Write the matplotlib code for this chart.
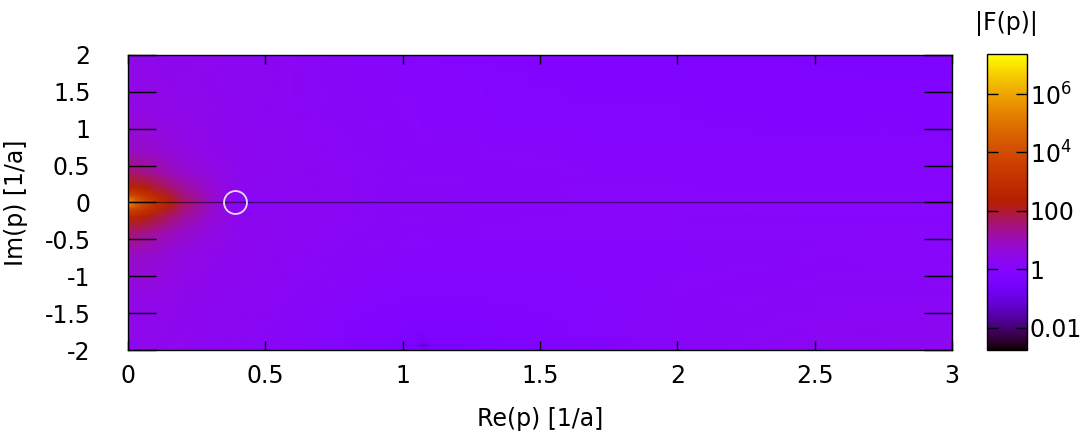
import numpy as np
import matplotlib
matplotlib.use('Agg')
import matplotlib.pyplot as plt
from matplotlib.colors import LogNorm

plt.rcParams['font.family'] = ['DejaVu Sans']
plt.rcParams['mathtext.fontset'] = 'dejavusans'

# grid (Re and Im of p, units 1/a)
re_p = [0, 0.03, 0.06, 0.1, 0.15, 0.2, 0.3, 0.4, 0.6, 0.8, 1.0, 1.05, 1.075, 1.1, 1.3, 1.6, 2.0, 2.5, 3.0]
im_p = [2, 1.2, 0.7, 0.4, 0.2, 0.1, 0, -0.1, -0.2, -0.4, -0.7, -1.2, -1.7, -1.91, -1.94, -1.97, -2]

# log10 |F(p)| estimated from the colours, rows follow im_p (top to bottom)
log_abs_F = [
    [0.38, 0.38, 0.38, 0.37, 0.36, 0.35, 0.33, 0.30, 0.22, 0.12, 0.02, 0.00, 0.00, -0.01, -0.06, -0.13, -0.20, -0.26, -0.28],
    [0.55, 0.55, 0.54, 0.51, 0.47, 0.43, 0.37, 0.32, 0.24, 0.15, 0.06, 0.05, 0.04, 0.04, 0.00, -0.05, -0.10, -0.13, -0.14],
    [0.90, 0.88, 0.84, 0.76, 0.66, 0.56, 0.43, 0.35, 0.27, 0.19, 0.11, 0.10, 0.10, 0.09, 0.06, 0.03, 0.00, -0.01, -0.02],
    [1.60, 1.52, 1.42, 1.25, 1.02, 0.82, 0.55, 0.37, 0.28, 0.21, 0.13, 0.12, 0.12, 0.12, 0.09, 0.06, 0.04, 0.03, 0.02],
    [2.60, 2.48, 2.28, 1.98, 1.60, 1.25, 0.75, 0.36, 0.28, 0.21, 0.14, 0.13, 0.13, 0.13, 0.10, 0.07, 0.05, 0.04, 0.04],
    [3.80, 3.55, 3.15, 2.65, 2.05, 1.50, 0.82, 0.24, 0.28, 0.21, 0.15, 0.14, 0.14, 0.14, 0.11, 0.08, 0.06, 0.05, 0.05],
    [6.00, 4.70, 3.90, 3.10, 2.35, 1.70, 0.88, 0.05, 0.28, 0.21, 0.15, 0.15, 0.15, 0.14, 0.12, 0.09, 0.07, 0.06, 0.06],
    [3.80, 3.55, 3.15, 2.65, 2.05, 1.50, 0.82, 0.24, 0.28, 0.21, 0.15, 0.14, 0.14, 0.14, 0.11, 0.08, 0.06, 0.05, 0.05],
    [2.60, 2.48, 2.28, 1.98, 1.60, 1.25, 0.75, 0.36, 0.28, 0.21, 0.14, 0.13, 0.13, 0.13, 0.10, 0.07, 0.05, 0.04, 0.04],
    [1.60, 1.52, 1.42, 1.25, 1.02, 0.82, 0.55, 0.37, 0.27, 0.19, 0.11, 0.10, 0.10, 0.10, 0.08, 0.06, 0.05, 0.05, 0.05],
    [0.90, 0.88, 0.84, 0.76, 0.66, 0.56, 0.43, 0.34, 0.24, 0.14, 0.05, 0.04, 0.04, 0.04, 0.03, 0.03, 0.04, 0.06, 0.08],
    [0.55, 0.55, 0.54, 0.51, 0.47, 0.43, 0.36, 0.29, 0.18, 0.05, -0.08, -0.09, -0.10, -0.10, -0.09, -0.03, 0.08, 0.16, 0.20],
    [0.40, 0.40, 0.40, 0.39, 0.38, 0.36, 0.31, 0.25, 0.12, -0.05, -0.22, -0.24, -0.26, -0.25, -0.22, -0.10, 0.12, 0.24, 0.30],
    [0.38, 0.38, 0.38, 0.37, 0.36, 0.34, 0.30, 0.24, 0.10, -0.08, -0.26, -0.30, -0.60, -0.30, -0.25, -0.12, 0.12, 0.25, 0.31],
    [0.38, 0.38, 0.38, 0.37, 0.36, 0.34, 0.30, 0.24, 0.10, -0.08, -0.27, -0.60, -1.40, -0.60, -0.25, -0.12, 0.12, 0.25, 0.31],
    [0.38, 0.38, 0.38, 0.37, 0.36, 0.34, 0.30, 0.24, 0.10, -0.08, -0.26, -0.30, -0.60, -0.30, -0.25, -0.12, 0.12, 0.25, 0.31],
    [0.37, 0.37, 0.37, 0.36, 0.35, 0.33, 0.29, 0.23, 0.10, -0.08, -0.26, -0.28, -0.30, -0.28, -0.25, -0.12, 0.12, 0.25, 0.31],
]

# marked point
mark_re = [0.39]
mark_im = [0.0]

x_ticks = [0, 0.5, 1, 1.5, 2, 2.5, 3]
x_labels = ['0', '0.5', '1', '1.5', '2', '2.5', '3']
y_ticks = [-2, -1.5, -1, -0.5, 0, 0.5, 1, 1.5, 2]
y_labels = ['-2', '-1.5', '-1', '-0.5', '0', '0.5', '1', '1.5', '2']
cb_ticks = [0.01, 1, 100, 1e4, 1e6]
cb_labels = ['0.01', '1', '100', r'$10^4$', r'$10^6$']
cb_min, cb_max = 10**-2.76, 10**7.37

W, H = 1085, 436
fig = plt.figure(figsize=(W / 100, H / 100), dpi=100)
ax = fig.add_axes([128 / W, 86 / H, 824 / W, 295 / H])
cax = fig.add_axes([987 / W, 86 / H, 40 / W, 296 / H])

Z = 10 ** np.array(log_abs_F)
mesh = ax.pcolormesh(re_p, im_p, Z, shading='gouraud', cmap='gnuplot',
                     norm=LogNorm(vmin=cb_min, vmax=cb_max), rasterized=True)
ax.axhline(0, color='black', lw=1.0, alpha=0.5)
ax.plot(mark_re, mark_im, 'o', mfc='none', mec='white', ms=16.5, mew=1.3, alpha=0.85)

ax.set_xlim(0, 3)
ax.set_ylim(-2, 2)
ax.set_xticks(x_ticks)
ax.set_xticklabels(x_labels)
ax.set_yticks(y_ticks)
ax.set_yticklabels(y_labels)
ax.tick_params(axis='both', direction='in', labelsize=17, width=1.0, color='black')
ax.tick_params(axis='x', length=6.5, top=True, pad=10)
ax.tick_params(axis='y', length=20, right=True, pad=27)
for s in ax.spines.values():
    s.set_linewidth(1.0)
ax.set_xlabel('Re(p) [1/a]', fontsize=17, labelpad=14)
ax.set_ylabel('Im(p) [1/a]', fontsize=17, labelpad=12)

cb = fig.colorbar(mesh, cax=cax)
cb.set_ticks(cb_ticks)
cb.set_ticklabels(cb_labels)
cb.minorticks_off()
cax.tick_params(direction='in', length=8, width=1.0, left=True, right=True,
                labelsize=17, pad=2)
cb.outline.set_linewidth(1.0)
fig.text(1006 / W, 1 - 24 / H, '|F(p)|', fontsize=17, ha='center', va='center')

fig.savefig('out.png', dpi=100)
